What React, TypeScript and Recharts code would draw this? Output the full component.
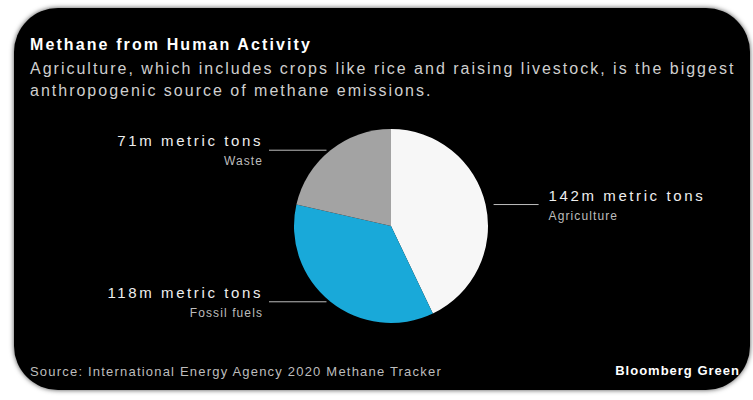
import React from "react";
import { Pie, PieChart, Cell } from "recharts";

const sources = ["Agriculture", "Fossil fuels", "Waste"];
const emissions = [142, 118, 71];
const valueLabels = ["142m metric tons", "118m metric tons", "71m metric tons"];
const colors = ["#f7f7f7", "#19a9d9", "#a3a3a3"];

const data = sources.map((name, i) => ({ name, value: emissions[i], text: valueLabels[i] }));

const RAD = Math.PI / 180;
const FONT = "Liberation Sans, Arial, sans-serif";

function renderLabel(props: any) {
  const { cx, cy, midAngle, outerRadius, index } = props;
  const ex = cx + outerRadius * Math.cos(-midAngle * RAD);
  const ey = cy + outerRadius * Math.sin(-midAngle * RAD);
  const right = ex > cx;
  const d = data[index];
  if (right) {
    const x1 = ex + 8;
    const x2 = x1 + 45;
    return (
      <g>
        <line x1={x1} y1={ey} x2={x2} y2={ey} stroke="#bdbdbd" strokeWidth={1} />
        <text x={x2 + 10} y={ey - 4} fill="#eeeeee" fontSize={15} letterSpacing={2.6} fontFamily={FONT}>
          {d.text}
        </text>
        <text x={x2 + 10} y={ey + 15} fill="#bdbdbd" fontSize={12} letterSpacing={1.1} fontFamily={FONT}>
          {d.name}
        </text>
      </g>
    );
  }
  const tx = 249;
  return (
    <g>
      <line x1={tx + 6} y1={ey} x2={ex - 4} y2={ey} stroke="#bdbdbd" strokeWidth={1} />
      <text x={tx} y={ey - 4} textAnchor="end" fill="#eeeeee" fontSize={15} letterSpacing={2.6} fontFamily={FONT}>
        {d.text}
      </text>
      <text x={tx} y={ey + 15} textAnchor="end" fill="#bdbdbd" fontSize={12} letterSpacing={1.1} fontFamily={FONT}>
        {d.name}
      </text>
    </g>
  );
}

export default function App() {
  return (
    <div style={{ position: "fixed", left: 0, top: 0, width: 753, height: 400, background: "#fff" }}>
      <div
        style={{
          position: "absolute",
          left: 14,
          top: 8,
          width: 736,
          height: 382,
          background: "#000",
          borderRadius: 44,
          boxShadow: "0 0 5px rgba(0,0,0,0.7)",
          fontFamily: FONT,
          overflow: "hidden",
        }}
      >
        <div
          style={{
            position: "absolute",
            left: 16,
            top: 28,
            color: "#fff",
            fontWeight: 700,
            fontSize: 16,
            letterSpacing: 2.1,
          }}
        >
          Methane from Human Activity
        </div>
        <div
          style={{
            position: "absolute",
            left: 16,
            top: 50,
            width: 725,
            color: "#cfcfcf",
            fontSize: 16,
            letterSpacing: 2,
            lineHeight: "22px",
            whiteSpace: "nowrap",
          }}
        >
          Agriculture, which includes crops like rice and raising livestock, is the biggest
          <br />
          anthropogenic source of methane emissions.
        </div>
        <div style={{ position: "absolute", top: 0, left: 0 }}>
          <PieChart width={736} height={382}>
            <Pie
              data={data}
              dataKey="value"
              nameKey="name"
              cx={372}
              cy={213}
              outerRadius={97}
              startAngle={90}
              endAngle={-270}
              stroke="none"
              label={renderLabel}
              labelLine={false}
              isAnimationActive={false}
            >
              {data.map((d, i) => (
                <Cell key={d.name} fill={colors[i]} />
              ))}
            </Pie>
          </PieChart>
        </div>
        <div
          style={{ position: "absolute", left: 16, top: 356, color: "#bdbdbd", fontSize: 13, letterSpacing: 1.2 }}
        >
          Source: International Energy Agency 2020 Methane Tracker
        </div>
        <div
          style={{
            position: "absolute",
            right: 10,
            top: 355,
            color: "#fff",
            fontSize: 13,
            fontWeight: 700,
            letterSpacing: 1,
          }}
        >
          Bloomberg Green
        </div>
      </div>
    </div>
  );
}
